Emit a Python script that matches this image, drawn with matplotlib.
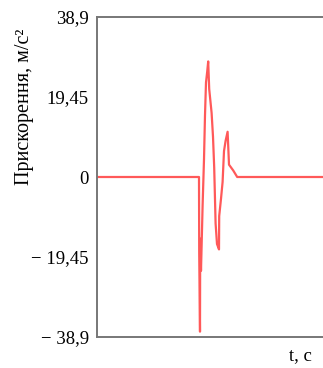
import matplotlib
matplotlib.use("Agg")
import matplotlib.pyplot as plt

# Data (time in arbitrary seconds, acceleration in m/s^2)
t = [0.0, 5.10, 5.11, 5.15, 5.16, 5.20, 5.28, 5.35, 5.40, 5.45, 5.51, 5.56, 5.61,
     5.73, 5.80, 5.86, 5.93, 6.00, 6.10, 6.11, 6.20, 6.28, 6.35, 6.43, 6.53,
     6.60, 6.81, 7.01, 11.3]
accel = [0.0, 0.0, -18.3, -37.6, -15.0, -22.8, -7.0, 4.3, 15.0, 23.0, 25.6, 28.1, 21.4,
         15.6, 9.8, 2.3, -11.3, -16.3, -17.6, -9.5, -5.3, -1.2, 6.3, 8.8, 11.0,
         3.0, 1.6, 0.0, 0.0]
yticks = [-38.9, -19.45, 0, 19.45, 38.9]
yticklabels = ["\u2212 38,9", "\u2212 19,45", "0", "19,45", "38,9"]

plt.rcParams['font.family'] = ['Liberation Serif', 'DejaVu Serif']

fig = plt.figure(figsize=(3.23, 3.68), dpi=100)
ax = fig.add_axes([97/323, 31/368, 1 - 97/323, 320/368])
ax.plot(t, accel, color='#ff3030', lw=1.6, alpha=0.8)
ax.set_xlim(0, 11.3)
ax.set_ylim(-38.9, 38.9)
ax.set_yticks(yticks)
ax.set_yticklabels(yticklabels, fontsize=13.5)
ax.set_xticks([])
ax.tick_params(axis='y', length=0, pad=6)
ax.spines['right'].set_visible(False)
for s in ['left', 'top', 'bottom']:
    ax.spines[s].set_color('#777777')
    ax.spines[s].set_linewidth(1.4)

fig.text(25/323, 1 - 107/368, "Прискорення, м/с²", rotation=90,
         ha='center', va='center', fontsize=14.5)
fig.text(300/323, 1 - 356/368, "t, c", ha='center', va='center', fontsize=13.5)

fig.savefig("out.png", dpi=100)
